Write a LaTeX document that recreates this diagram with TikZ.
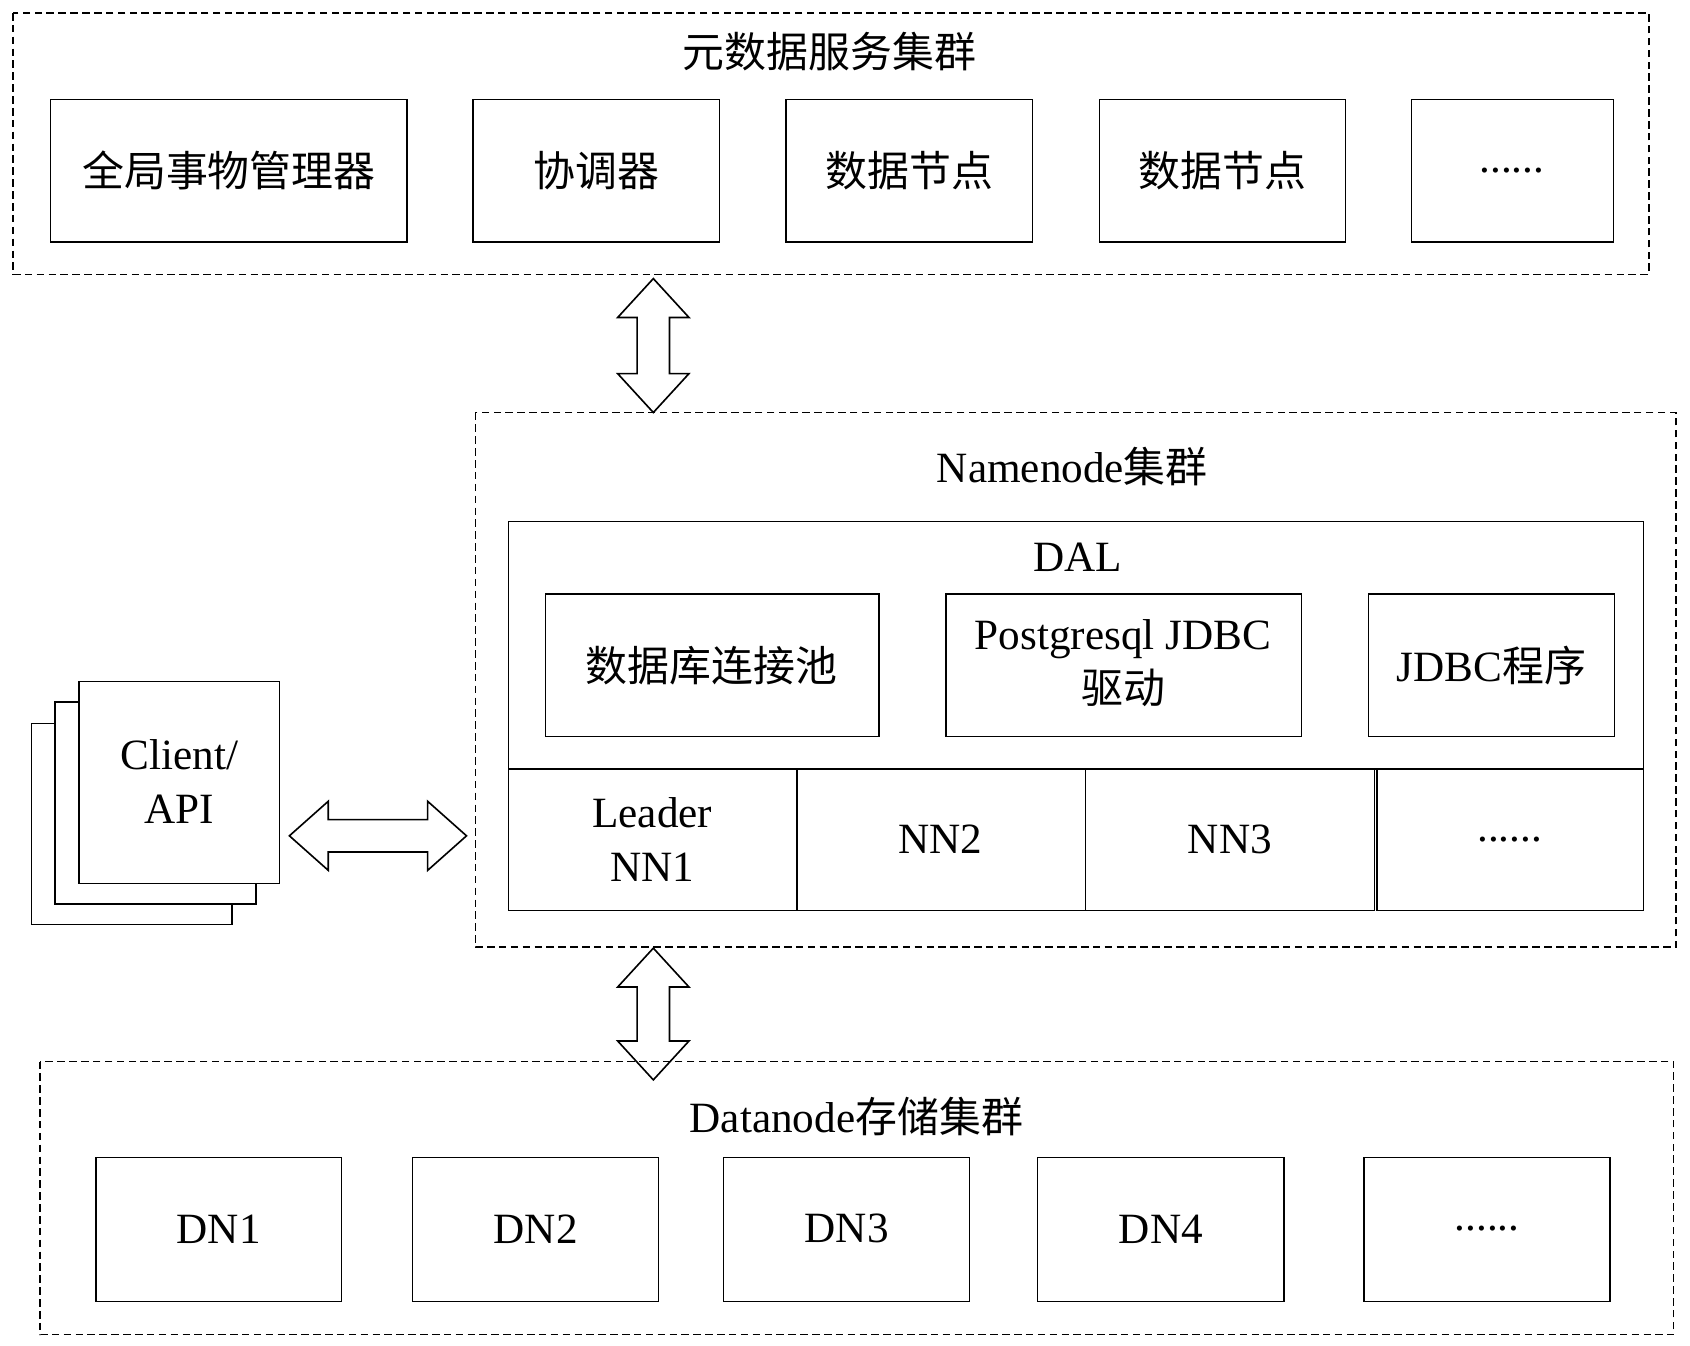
\documentclass[tikz,border=0pt]{standalone}
\usepackage{fontspec}
\setmainfont{Liberation Serif}
\newfontfamily\cjk{Noto Sans CJK SC}[Scale=0.97]
\begin{document}
\begin{tikzpicture}[x=1pt,y=-1pt,
  dbox/.style={draw,dashed,line width=1.2pt,dash pattern=on 7pt off 4pt},
  bx/.style={draw,line width=1.3pt,fill=white},
  t/.style={font=\fontsize{40}{48}\selectfont,align=center},
  t2/.style={font=\fontsize{40}{50}\selectfont,align=center},
  arr/.style={draw,line width=1.5pt,fill=white,line join=miter}]
\useasboundingbox (0,0) rectangle (1565,1246);
% top cluster
\draw[dbox] (12,12) rectangle (1527,254);
\node[t] (tt) at (768,48) {\cjk 元数据服务集群};
\foreach \a/\b/\s [count=\i] in {47/377/全局事物管理器,438/666/协调器,728/956/数据节点,1018/1246/数据节点}{
  \draw[bx] (\a,92) rectangle (\b,224);
  \node[t] (m\i) at ({(\a+\b)/2},158) {\cjk \s};}
\draw[bx] (1307,92) rectangle (1494,224);
\node[t] (m5) at (1400,158) {......};
% namenode cluster
\draw[dbox] (440,382) rectangle (1552,877);
\node[t] (nt) at (993,432) {Namenode{\cjk 集群}};
\draw[bx] (471,483) rectangle (1522,712);
\node[t] (dal) at (998,516) {DAL};
\draw[bx] (505,550) rectangle (814,682); \node[t] (d1) at (659,616) {\cjk 数据库连接池};
\draw[bx] (876,550) rectangle (1205,682); \node[t2] (d2) at (1040,614) {Postgresql JDBC\\{\cjk 驱动}};
\draw[bx] (1267,550) rectangle (1495,682); \node[t] (d3) at (1381,616) {JDBC{\cjk 程序}};
\draw[bx] (471,712) rectangle (738,843); \node[t2] (n1) at (604,777) {Leader\\NN1};
\draw[bx] (738,712) rectangle (1005,843); \node[t] (n2) at (871,777) {NN2};
\draw[bx] (1005,712) rectangle (1273,843); \node[t] (n3) at (1139,777) {NN3};
\draw[bx] (1275,712) rectangle (1522,843); \node[t] (n4) at (1398,777) {......};
% client
\draw[bx] (29,670) rectangle (215,856);
\draw[bx] (51,650) rectangle (237,837);
\draw[bx] (73,631) rectangle (259,818);
\node[t2] (cl) at (166,724) {Client/\\API};
% arrows
\draw[arr] (605,258) -- (638,294) -- (620,294) -- (620,346) -- (638,346) -- (605,382) -- (572,346) -- (590,346) -- (590,294) -- (572,294) -- cycle;
\draw[arr] (605,878) -- (638,914) -- (620,914) -- (620,964) -- (638,964) -- (605,1000) -- (572,964) -- (590,964) -- (590,914) -- (572,914) -- cycle;
\draw[arr] (268,774) -- (304,742) -- (304,759) -- (396,759) -- (396,742) -- (432,774) -- (396,806) -- (396,789) -- (304,789) -- (304,806) -- cycle;
% datanode cluster
\draw[dbox] (37,983) rectangle (1550,1236);
\node[t] (dt) at (793,1034) {Datanode{\cjk 存储集群}};
\foreach \a/\b [count=\i] in {89/316,382/610,670/898,961/1189}{
  \draw[bx] (\a,1072) rectangle (\b,1205);
  \node[t] (dn\i) at ({(\a+\b)/2},1138) {DN\i};}
\draw[bx] (1263,1072) rectangle (1491,1205);
\node[t] (dn5) at (1377,1138) {......};
\end{tikzpicture}
\end{document}
